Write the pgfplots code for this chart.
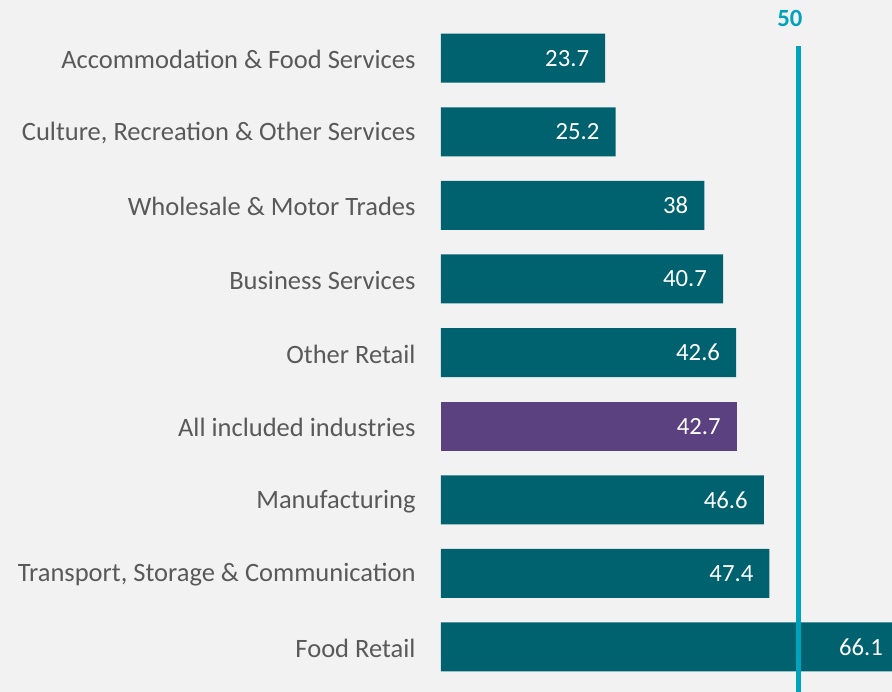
\documentclass[border=0pt]{standalone}
\usepackage{fontspec}
\setmainfont{Carlito}
\usepackage{pgfplots}
\pgfplotsset{compat=1.18}
\definecolor{bg}{HTML}{F2F2F2}
\definecolor{teal}{HTML}{00626E}
\definecolor{purp}{HTML}{5B417F}
\definecolor{cyanl}{HTML}{00A2BC}
\definecolor{txt}{HTML}{595959}
\begin{document}
\begin{tikzpicture}[x=1pt,y=1pt]
\path[use as bounding box, fill=bg] (0,0) rectangle (892,692);
\clip (0,0) rectangle (892,692);
\begin{axis}[
  at={(441pt,0.84pt)}, anchor=south west,
  scale only axis, width=451pt, height=677.12pt,
  xmin=0, xmax=65.08, ymin=-0.6, ymax=8.6,
  xbar, bar width=49pt, bar shift=0pt,
  clip=false,
  axis line style={draw=none}, tick style={draw=none},
  xtick=\empty,
  ytick={0,...,8},
  yticklabels={Food Retail, {Transport, Storage \& Communication}, Manufacturing, All included industries, Other Retail, Business Services, Wholesale \& Motor Trades, {Culture, Recreation \& Other Services}, Accommodation \& Food Services},
  yticklabel style={font=\fontsize{26.5}{30}\selectfont, text=txt, anchor=east, inner sep=0pt, xshift=-21pt, yshift=-1.5pt},
  nodes near coords,
  nodes near coords style={font=\fontsize{24.7}{28}\selectfont, text=white, anchor=east, inner sep=0pt, xshift=-16pt},
  /pgf/number format/assume math mode=true,
  /pgf/number format/fixed,
  /pgf/number format/precision=1,
]
\addplot[fill=teal, draw=none] coordinates {(66.1,0) (47.4,1) (46.6,2) (42.6,4) (40.7,5) (38,6) (25.2,7) (23.7,8)};
\addplot[fill=purp, draw=none] coordinates {(42.7,3)};
\draw[cyanl, line width=4.5pt] (axis cs:51.6,-0.8) -- (axis cs:51.6,8.166);
\node[font=\bfseries\fontsize{24.7}{28}\selectfont, text=cyanl, inner sep=0pt] at (axis cs:50.36,8.546) {50};
\end{axis}
\end{tikzpicture}
\end{document}
